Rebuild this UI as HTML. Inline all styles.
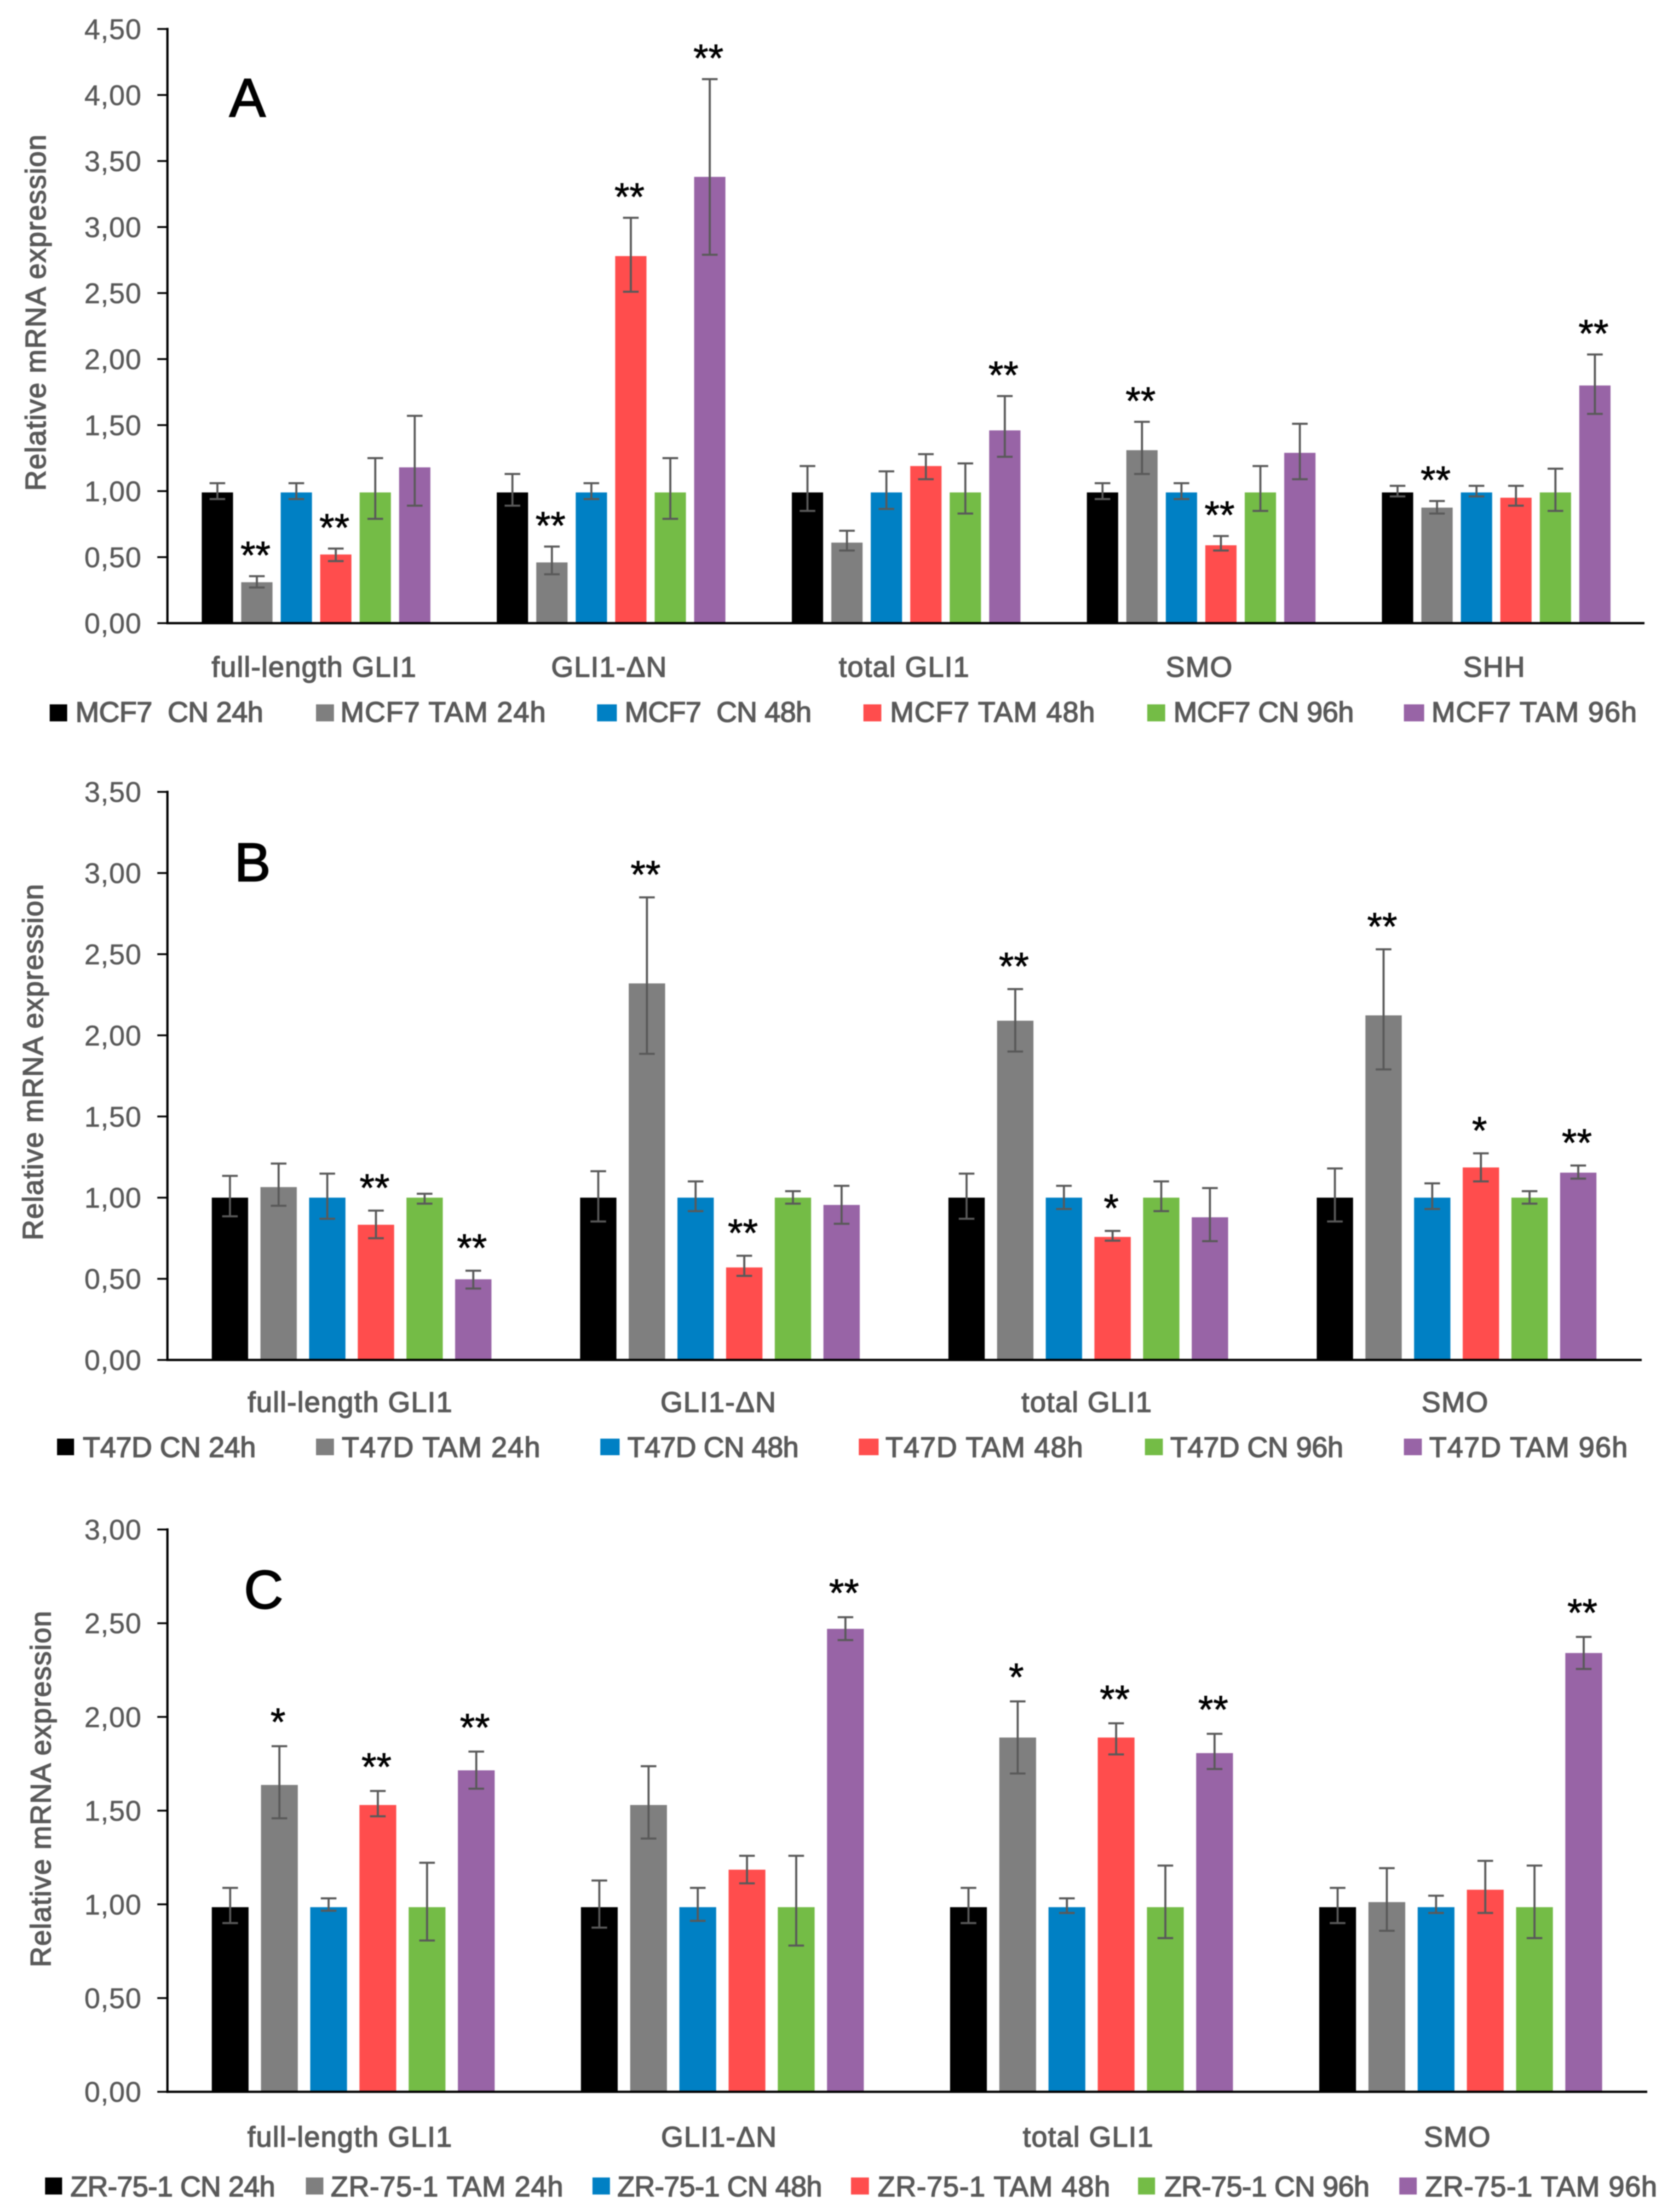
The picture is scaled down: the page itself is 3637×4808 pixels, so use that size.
<!DOCTYPE html>
<html lang="en">
<head>
<meta charset="utf-8">
<title>Relative mRNA expression panels</title>
<style>
html,body{margin:0;padding:0;background:#fff;}
svg{display:block;filter:blur(1.4px);}
text{font-family:"Liberation Sans",sans-serif;}
.lbl{font-size:62px;letter-spacing:1.6px;fill:#595959;stroke:#595959;stroke-width:1.8px;}
.tick{font-size:62px;letter-spacing:1px;fill:#595959;stroke:#595959;stroke-width:.6px;}
.letter{font-size:118px;fill:#000;stroke:#000;stroke-width:2.5px;}
.star{font-size:84px;fill:#000;stroke:#000;stroke-width:1px;}
</style>
</head>
<body>
<svg id="figure" xmlns="http://www.w3.org/2000/svg" width="3637" height="4808" viewBox="0 0 3637 4808">
<rect x="0" y="0" width="3637" height="4808" fill="#fff"/>

<text class="letter" x="538" y="253" text-anchor="middle">A</text>
<text class="letter" x="549" y="1915" text-anchor="middle">B</text>
<text class="letter" x="573" y="3496" text-anchor="middle">C</text>

<text class="lbl" transform="translate(99,679) rotate(-90)" text-anchor="middle">Relative mRNA expression</text>
<text class="lbl" transform="translate(93,2308) rotate(-90)" text-anchor="middle">Relative mRNA expression</text>
<text class="lbl" transform="translate(110,3888) rotate(-90)" text-anchor="middle">Relative mRNA expression</text>

<g>
<rect x="108" y="1531" width="38" height="37" fill="#000000"/>
<text class="lbl" x="164" y="1569" textLength="410" xml:space="preserve">MCF7  CN 24h</text>
<rect x="687" y="1531" width="39" height="37" fill="#7f7f7f"/>
<text class="lbl" x="740" y="1569" textLength="448">MCF7 TAM 24h</text>
<rect x="1298" y="1531" width="43" height="37" fill="#0080c4"/>
<text class="lbl" x="1358" y="1569" textLength="408" xml:space="preserve">MCF7  CN 48h</text>
<rect x="1877" y="1531" width="39" height="37" fill="#ff4d4d"/>
<text class="lbl" x="1935" y="1569" textLength="447">MCF7 TAM 48h</text>
<rect x="2494" y="1531" width="39" height="37" fill="#74bc46"/>
<text class="lbl" x="2551" y="1569" textLength="394">MCF7 CN 96h</text>
<rect x="3052" y="1531" width="44" height="37" fill="#9864a6"/>
<text class="lbl" x="3112" y="1569" textLength="448">MCF7 TAM 96h</text>
</g>

<g>
<rect x="124" y="3127" width="37" height="36" fill="#000000"/>
<text class="lbl" x="180" y="3167" textLength="378">T47D CN 24h</text>
<rect x="687" y="3127" width="39" height="36" fill="#7f7f7f"/>
<text class="lbl" x="743" y="3167" textLength="433">T47D TAM 24h</text>
<rect x="1305" y="3127" width="42" height="36" fill="#0080c4"/>
<text class="lbl" x="1364" y="3167" textLength="374">T47D CN 48h</text>
<rect x="1867" y="3127" width="43" height="36" fill="#ff4d4d"/>
<text class="lbl" x="1925" y="3167" textLength="431">T47D TAM 48h</text>
<rect x="2489" y="3127" width="39" height="36" fill="#74bc46"/>
<text class="lbl" x="2544" y="3167" textLength="378">T47D CN 96h</text>
<rect x="3052" y="3127" width="39" height="36" fill="#9864a6"/>
<text class="lbl" x="3107" y="3167" textLength="433">T47D TAM 96h</text>
</g>

<g>
<rect x="98" y="4733" width="37" height="37" fill="#000000"/>
<text class="lbl" x="153" y="4774" textLength="447">ZR-75-1 CN 24h</text>
<rect x="665" y="4733" width="38" height="37" fill="#7f7f7f"/>
<text class="lbl" x="719" y="4774" textLength="507">ZR-75-1 TAM 24h</text>
<rect x="1288" y="4733" width="38" height="37" fill="#0080c4"/>
<text class="lbl" x="1342" y="4774" textLength="447">ZR-75-1 CN 48h</text>
<rect x="1850" y="4733" width="39" height="37" fill="#ff4d4d"/>
<text class="lbl" x="1908" y="4774" textLength="507">ZR-75-1 TAM 48h</text>
<rect x="2474" y="4733" width="37" height="37" fill="#74bc46"/>
<text class="lbl" x="2531" y="4774" textLength="448">ZR-75-1 CN 96h</text>
<rect x="3042" y="4733" width="38" height="37" fill="#9864a6"/>
<text class="lbl" x="3098" y="4774" textLength="506">ZR-75-1 TAM 96h</text>
</g>
</svg>

<script>
const seriesColors = ["#000000", "#7f7f7f", "#0080c4", "#ff4d4d", "#74bc46", "#9864a6"];

const aCategories = ["full-length GLI1", "GLI1-ΔN", "total GLI1", "SMO", "SHH"];
const aTicks = ["0,00", "0,50", "1,00", "1,50", "2,00", "2,50", "3,00", "3,50", "4,00", "4,50"];
const aMeans = [
  [0.99, 0.31, 0.99, 0.52, 0.99, 1.18],
  [0.99, 0.46, 0.99, 2.78, 0.99, 3.38],
  [0.99, 0.61, 0.99, 1.19, 0.99, 1.46],
  [0.99, 1.31, 0.99, 0.59, 0.99, 1.29],
  [0.99, 0.875, 0.99, 0.95, 0.99, 1.80]
];
const aErrHigh = [
  [1.06, 0.356, 1.06, 0.565, 1.25, 1.57],
  [1.13, 0.58, 1.06, 3.07, 1.25, 4.12],
  [1.19, 0.70, 1.15, 1.28, 1.21, 1.72],
  [1.06, 1.525, 1.06, 0.66, 1.19, 1.51],
  [1.04, 0.925, 1.04, 1.04, 1.17, 2.035]
];
const aErrLow = [
  [0.94, 0.27, 0.94, 0.47, 0.79, 0.89],
  [0.89, 0.37, 0.94, 2.51, 0.79, 2.79],
  [0.85, 0.55, 0.865, 1.09, 0.83, 1.26],
  [0.94, 1.13, 0.94, 0.55, 0.85, 1.09],
  [0.96, 0.83, 0.96, 0.89, 0.85, 1.585]
];
const aStars = [
  [0, 2, 0, 2, 0, 0],
  [0, 2, 0, 2, 0, 2],
  [0, 0, 0, 0, 0, 2],
  [0, 2, 0, 2, 0, 0],
  [0, 2, 0, 0, 0, 2]
];

const bCategories = ["full-length GLI1", "GLI1-ΔN", "total GLI1", "SMO"];
const bTicks = ["0,00", "0,50", "1,00", "1,50", "2,00", "2,50", "3,00", "3,50"];
const bMeans = [
  [1.00, 1.065, 1.00, 0.833, 1.00, 0.497],
  [1.00, 2.32, 1.00, 0.57, 1.00, 0.955],
  [1.00, 2.09, 1.00, 0.758, 1.00, 0.879],
  [1.00, 2.123, 1.00, 1.186, 1.00, 1.154]
];
const bErrHigh = [
  [1.134, 1.21, 1.148, 0.92, 1.024, 0.55],
  [1.163, 2.85, 1.10, 0.642, 1.04, 1.073],
  [1.148, 2.285, 1.073, 0.795, 1.10, 1.059],
  [1.18, 2.53, 1.088, 1.273, 1.04, 1.198]
];
const bErrLow = [
  [0.885, 0.95, 0.87, 0.75, 0.963, 0.44],
  [0.853, 1.886, 0.917, 0.518, 0.963, 0.839],
  [0.87, 1.90, 0.93, 0.735, 0.917, 0.732],
  [0.853, 1.79, 0.93, 1.10, 0.963, 1.117]
];
const bStars = [
  [0, 0, 0, 2, 0, 2],
  [0, 2, 0, 2, 0, 0],
  [0, 2, 0, 1, 0, 0],
  [0, 2, 0, 1, 0, 2]
];

const cCategories = ["full-length GLI1", "GLI1-ΔN", "total GLI1", "SMO"];
const cTicks = ["0,00", "0,50", "1,00", "1,50", "2,00", "2,50", "3,00"];
const cMeans = [
  [0.985, 1.637, 0.985, 1.53, 0.985, 1.715],
  [0.985, 1.53, 0.985, 1.185, 0.985, 2.47],
  [0.985, 1.89, 0.985, 1.89, 0.985, 1.807],
  [0.985, 1.012, 0.985, 1.078, 0.985, 2.341]
];
const cErrHigh = [
  [1.088, 1.844, 1.032, 1.605, 1.222, 1.815],
  [1.127, 1.737, 1.088, 1.259, 1.259, 2.532],
  [1.088, 2.083, 1.032, 1.966, 1.207, 1.91],
  [1.088, 1.193, 1.046, 1.232, 1.207, 2.427]
];
const cErrLow = [
  [0.90, 1.459, 0.966, 1.47, 0.807, 1.617],
  [0.876, 1.351, 0.912, 1.112, 0.78, 2.41],
  [0.90, 1.698, 0.954, 1.80, 0.82, 1.722],
  [0.90, 0.859, 0.954, 0.954, 0.82, 2.256]
];
const cStars = [
  [0, 1, 0, 2, 0, 2],
  [0, 0, 0, 0, 0, 2],
  [0, 1, 0, 2, 0, 2],
  [0, 0, 0, 0, 0, 2]
];

const NS = "http://www.w3.org/2000/svg";
const root = document.getElementById("figure");

function make(tag, attrs, parent) {
  const el = document.createElementNS(NS, tag);
  for (const k in attrs) el.setAttribute(k, attrs[k]);
  parent.appendChild(el);
  return el;
}

function drawPanel(id, cfg, categories, ticks, means, errHigh, errLow, stars) {
  const g = make("g", {}, root);
  
  

  const yScale = v => cfg.yZero - v * cfg.pxPerUnit;
  const xBar = (gi, si) => cfg.xStart + gi * cfg.groupStep + si * cfg.barStep;
  const lastBarRight = gi => xBar(gi, 5) + cfg.barWidth;

  means.forEach((row, gi) => {
    row.forEach((v, si) => {
      const bar = make("rect", {
        x: xBar(gi, si), y: yScale(v), width: cfg.barWidth,
        height: yScale(0) - yScale(v), fill: seriesColors[si]
      }, g);
      
      
    });
  });

  means.forEach((row, gi) => {
    row.forEach((v, si) => {
      const cx = xBar(gi, si) + cfg.barWidth / 2;
      const hi = yScale(errHigh[gi][si]);
      const lo = yScale(errLow[gi][si]);
      const eb = make("path", {
        d: "M" + (cx - 17) + " " + hi + "H" + (cx + 17) +
           "M" + cx + " " + hi + "V" + lo +
           "M" + (cx - 17) + " " + lo + "H" + (cx + 17),
        fill: "none", stroke: "#595959", "stroke-width": 4.5
      }, g);
      
      

      const n = stars[gi][si];
      if (n > 0) {
        const st = make("text", {
          x: cx - 3, y: hi - cfg.starGap + 46, "text-anchor": "middle", "class": "star"
        }, g);
        st.textContent = "*".repeat(n);
        
        
      }
    });
  });

  const yAxis = make("line", {
    x1: cfg.xAxis, x2: cfg.xAxis, y1: yScale((ticks.length - 1) * 0.5) - 2.5,
    y2: cfg.yZero + 2.5, stroke: "#000", "stroke-width": 5
  }, g);
  
  

  const xAxis = make("line", {
    x1: cfg.xAxis - 2.5, x2: cfg.xEnd, y1: cfg.yZero, y2: cfg.yZero,
    stroke: "#000", "stroke-width": 5
  }, g);
  
  

  ticks.forEach((t, i) => {
    const y = yScale(i * 0.5);
    const tk = make("line", { x1: cfg.xAxis - 22, x2: cfg.xAxis, y1: y, y2: y, stroke: "#000", "stroke-width": 4 }, g);
    
    
    const lb = make("text", { x: 308, y: y + 22, "text-anchor": "end", "class": "tick" }, g);
    lb.textContent = t;
    
    
  });

  categories.forEach((c, gi) => {
    const center = (xBar(gi, 0) + lastBarRight(gi)) / 2 + cfg.labelShift;
    const lb = make("text", { x: center, y: cfg.catY, "text-anchor": "middle", "class": "lbl" }, g);
    lb.textContent = c;
    
    
  });
}

drawPanel("panel-a",
  { xAxis: 364, xEnd: 3575, yZero: 1354.5, pxPerUnit: 287, xStart: 438.6, groupStep: 641.4, barStep: 85.8, barWidth: 68, catY: 1471, labelShift: -4, starGap: 63 },
  aCategories, aTicks, aMeans, aErrHigh, aErrLow, aStars);

drawPanel("panel-b",
  { xAxis: 364, xEnd: 3569, yZero: 2956, pxPerUnit: 352.8, xStart: 460.4, groupStep: 800.7, barStep: 105.8, barWidth: 79, catY: 3069, labelShift: -3, starGap: 67 },
  bCategories, bTicks, bMeans, bErrHigh, bErrLow, bStars);

drawPanel("panel-c",
  { xAxis: 364, xEnd: 3581, yZero: 4546.7, pxPerUnit: 407.4, xStart: 460.4, groupStep: 802.5, barStep: 107, barWidth: 80, catY: 4666, labelShift: -7, starGap: 70 },
  cCategories, cTicks, cMeans, cErrHigh, cErrLow, cStars);
</script>
</body>
</html>
